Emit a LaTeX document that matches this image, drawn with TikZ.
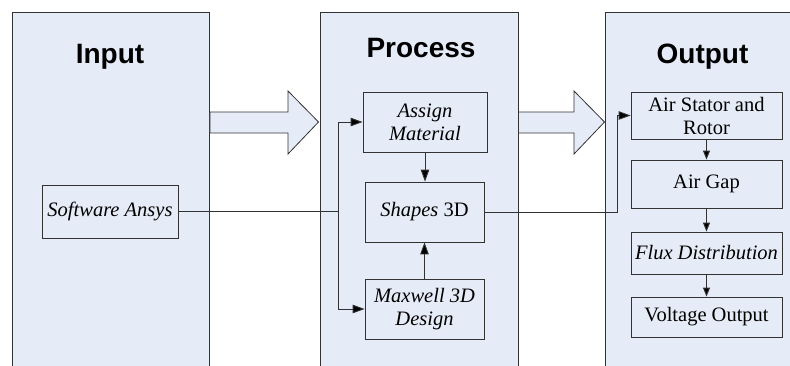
\documentclass[tikz,border=0pt]{standalone}
\usepackage{fontspec}
\setmainfont{Liberation Serif}
\setsansfont{Liberation Sans}
\usetikzlibrary{arrows.meta}
\definecolor{pfill}{RGB}{230,236,247}
\definecolor{pline}{RGB}{50,50,50}
\begin{document}
\begin{tikzpicture}[x=1pt,y=-1pt,
  panel/.style={draw=pline, line width=0.9pt, fill=pfill, rectangle, anchor=north west, inner sep=0pt},
  title/.style={font=\sffamily\bfseries\fontsize{28}{30}\selectfont, anchor=base, inner sep=0pt},
  boxx/.style={draw=pline, line width=0.8pt, fill=pfill, rectangle, inner sep=0pt, align=center,
    font=\fontsize{20.5}{23}\selectfont},
  conn/.style={draw=pline, line width=0.9pt},
  arr/.style={conn, -{Triangle[length=12pt,width=8.5pt,fill=black]}},
  sarr/.style={conn, -{Triangle[length=9pt,width=7pt,fill=black]}},
  bigarr/.style={draw=pline, line width=0.8pt, fill=pfill, line join=miter}
]
\useasboundingbox (0,0) rectangle (790,365);
\clip (0,0) rectangle (790,365);

% panels
\node[panel, minimum width=197pt, minimum height=370pt] (inpanel) at (12,12) {};
\node[panel, minimum width=198pt, minimum height=370pt] (prpanel) at (319.5,12) {};
\node[panel, minimum width=204pt, minimum height=370pt] (outpanel) at (605,12) {};

% titles
\node[title] (tin) at (110,63) {Input};
\node[title] (tpr) at (421,57) {Process};
\node[title] (tout) at (702.5,63) {Output};

% big arrows
\draw[bigarr] (inpanel.east |- 0,112) -- (288,112) -- (288,91) -- (318.5,122) -- (288,154) -- (288,133) -- (inpanel.east |- 0,133) -- cycle;
\draw[bigarr] (prpanel.east |- 0,112) -- (574,112) -- (574,91) -- (604.5,122) -- (574,154) -- (574,133) -- (prpanel.east |- 0,133) -- cycle;

% boxes
\node[boxx, minimum width=136pt, minimum height=53pt] (ansys) at (110,211.5) {\itshape Software Ansys};
\node[boxx, minimum width=124pt, minimum height=60pt] (assign) at (425,122) {\itshape Assign\\\itshape Material};
\node[boxx, minimum width=119pt, minimum height=60pt] (shapes) at (424.5,212) {\textit{Shapes} 3D};
\node[boxx, minimum width=119pt, minimum height=60pt] (maxwell) at (424.5,309) {\itshape Maxwell 3D\\\itshape Design};

\node[boxx, minimum width=151pt, minimum height=47pt] (stator) at (706.5,115.5) {Air Stator and\\Rotor};
\node[boxx, minimum width=151pt, minimum height=48pt] (gap) at (706.5,184) {Air Gap};
\node[boxx, minimum width=151pt, minimum height=42pt] (flux) at (706.5,253) {\itshape Flux Distribution};
\node[boxx, minimum width=151pt, minimum height=40pt] (volt) at (706.5,317) {Voltage Output};

% connectors
\coordinate (j) at (338,211.5);
\coordinate (k) at (617,212);
\draw[conn] (ansys.east) -- (j);
\draw[arr] (j) |- (assign.west);
\draw[arr] (j) |- (maxwell.west);
\draw[arr] (assign.south) -- (assign.south |- shapes.north);
\draw[arr] (maxwell.north) -- (maxwell.north |- shapes.south);
\draw[arr] (shapes.east) -- (k) |- (stator.west);
\draw[sarr] (stator) -- (gap);
\draw[sarr] (gap) -- (flux);
\draw[sarr] (flux) -- (volt);
\end{tikzpicture}
\end{document}
